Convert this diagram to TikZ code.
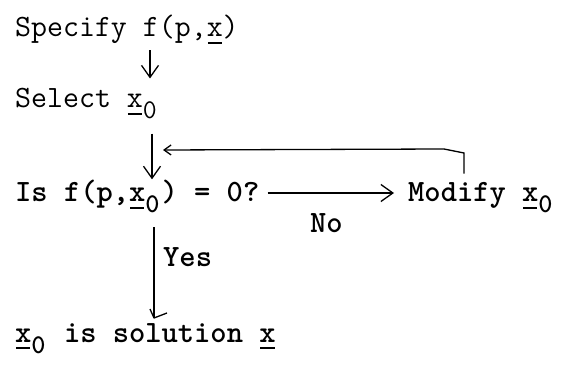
\documentclass[tikz,border=0pt]{standalone}
\usepackage{fontspec}
\usetikzlibrary{arrows.meta,calc}
\newcommand\ulx[1]{\setbox0\hbox{#1}\rlap{\kern1pt\rule[-7pt]{\dimexpr\wd0-2pt\relax}{1.6pt}}\box0}
\newcommand\subz{\makebox[0.525em][l]{\raisebox{-11pt}{\fontsize{27}{30}\selectfont 0}}}
\begin{document}
\begin{tikzpicture}[x=1pt,y=-1pt,
  txt/.style={inner sep=0pt,anchor=base west,font=\fontsize{31}{36}\selectfont\ttfamily},
  btxt/.style={inner sep=0pt,anchor=base west,font=\fontsize{31}{36}\selectfont\ttfamily\bfseries},
  conn/.style={line width=1.3pt},
  arr/.style={conn,-{Straight Barb[length=12pt,width=17pt]}}]
\useasboundingbox (0,0) rectangle (565,371);
\node[txt] (spec) at (15,37) {Specify f(p,\ulx{x})};
\node[txt] (sel) at (15,108) {Select \ulx{x}\subz};
\node[btxt] (isf) at (15,202) {Is f(p,\ulx{x}\subz) = 0?};
\node[btxt] (mod) at (408,202) {Modify \ulx{x}\subz};
\node[btxt] (no) at (310,233) {No};
\node[btxt] (yes) at (163,267) {Yes};
\node[btxt] (sol) at (15,342) {\ulx{x}\subz{} is solution \ulx{x}};
\coordinate (a1) at (150,0);
\coordinate (a2) at (152,0);
\coordinate (a3) at (154,0);
\coordinate (hy) at (0,193);
\coordinate (fbx) at (464,0);
\coordinate (fbc) at (464,153);
\coordinate (fbk) at (444,149);
\coordinate (fbtip) at (163,150);
\coordinate (t3) at (154,318);
\draw[arr,shorten <=6pt,shorten >=10pt] (a1 |- spec.south) -- (a1 |- sel.north);
\draw[arr,shorten <=14pt,shorten >=1pt] (a2 |- sel.south) -- (a2 |- isf.north);
\draw[arr,shorten <=8pt,shorten >=14pt] (isf.east |- hy) -- (mod.west |- hy);
\draw[conn,shorten <=9pt,-{Straight Barb[length=7pt,width=10pt]}] (fbx |- mod.north) -- (fbc) -- (fbk) -- (fbtip);
\draw[conn,shorten <=14pt] (a3 |- isf.south) -- (t3);
\draw[conn,line join=round] ($(t3)+(-4,-9)$) -- (t3) -- ($(t3)+(13,-5)$);
\end{tikzpicture}
\end{document}
